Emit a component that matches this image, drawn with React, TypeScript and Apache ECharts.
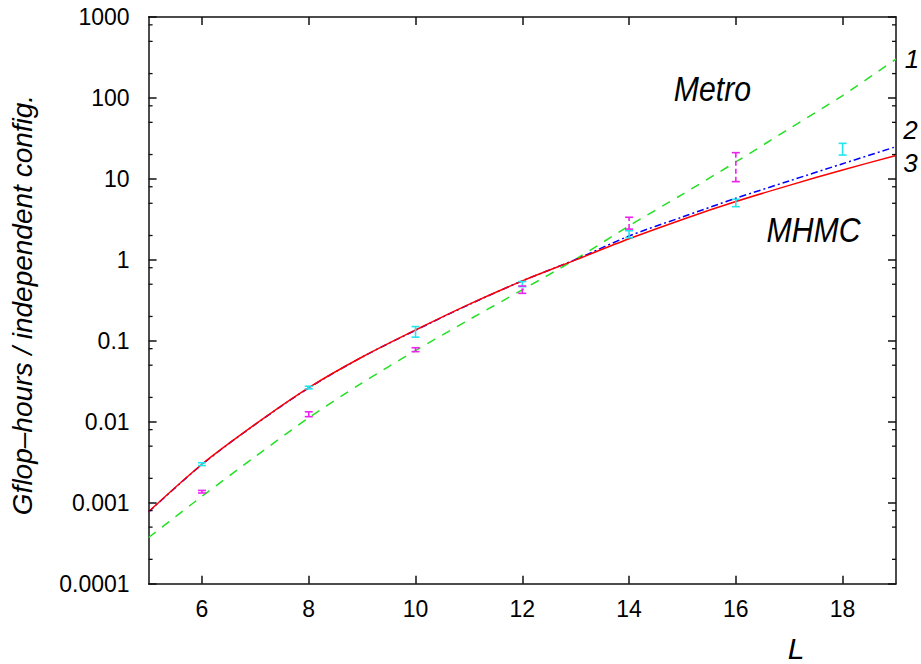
import React, { useEffect, useRef } from "react";
import * as echarts from "echarts";

// Curve sampling points (L)
const fitL = [5, 6, 7, 8, 9, 10, 11, 12, 13, 14, 15, 16, 17, 18, 19];
// 1: Metro fit (green dashed)
const metroFit = [0.000372, 0.0012, 0.00372, 0.0112, 0.0302, 0.0759, 0.182, 0.427, 1.02, 2.63, 6.46, 16.2, 41.7, 107, 302];
// 2: MHMC fit (blue dash-dot)
const mhmcFit2 = [0.00077, 0.00297, 0.0093, 0.0262, 0.063, 0.135, 0.28, 0.55, 1.01, 1.97, 3.39, 5.77, 9.44, 15.4, 25.0];
// 3: MHMC fit (red solid)
const mhmcFit3 = [0.000776, 0.00299, 0.00933, 0.0264, 0.0631, 0.136, 0.282, 0.55, 1.0, 1.82, 3.16, 5.25, 8.32, 12.9, 19.5];

// MHMC data (cyan)
const mhmcL = [6, 8, 10, 12, 14, 16, 18];
const mhmcVal = [0.003, 0.0265, 0.132, 0.5, 2.1, 5.04, 23.2];
const mhmcLo = [0.00288, 0.0255, 0.111, 0.467, 1.88, 4.54, 19.7];
const mhmcHi = [0.00312, 0.0275, 0.15, 0.54, 2.29, 5.6, 27.5];

// Metro data (magenta)
const metroL = [6, 8, 10, 12, 14, 16];
const metroVal = [0.00137, 0.0125, 0.0778, 0.428, 2.83, 14.9];
const metroLo = [0.00132, 0.01156, 0.0735, 0.386, 2.4, 9.25];
const metroHi = [0.00142, 0.0133, 0.0822, 0.475, 3.36, 21.1];

const xTicks = [6, 8, 10, 12, 14, 16, 18];
const yTickLabels = ["0.0001", "0.001", "0.01", "0.1", "1", "10", "100", "1000"];
const yMinorTicks = [
  0.0002, 0.0005, 0.0008,
  0.002, 0.005, 0.008,
  0.02, 0.05, 0.08,
  0.2, 0.5, 0.8,
  2, 5, 8,
  20, 50, 80,
  200, 500, 800,
];

const FONT = "Liberation Sans, Arial, Helvetica, sans-serif";

function errorBarSeries(xs: number[], c: number[], lo: number[], hi: number[], color: string, dash: number[] | null) {
  return {
    type: "custom",
    clip: false,
    z: 5,
    data: xs.map((x, i) => [x, c[i], lo[i], hi[i]]),
    encode: { x: 0, y: [1, 2, 3] },
    renderItem: (params: any, api: any) => {
      const x = api.value(0);
      const pLo = api.coord([x, api.value(2)]);
      const pHi = api.coord([x, api.value(3)]);
      const w = 4;
      const st = { stroke: color, lineWidth: 1.6, lineDash: dash || undefined };
      const cap = { stroke: color, lineWidth: 1.6 };
      return {
        type: "group",
        children: [
          { type: "line", shape: { x1: pLo[0], y1: pLo[1], x2: pHi[0], y2: pHi[1] }, style: st },
          { type: "line", shape: { x1: pLo[0] - w, y1: pLo[1], x2: pLo[0] + w, y2: pLo[1] }, style: cap },
          { type: "line", shape: { x1: pHi[0] - w, y1: pHi[1], x2: pHi[0] + w, y2: pHi[1] }, style: cap },
        ],
      };
    },
  };
}

export default function App() {
  const ref = useRef<HTMLDivElement>(null);
  useEffect(() => {
    if (!ref.current) return;
    const chart = echarts.init(ref.current, undefined, { renderer: "svg" });
    const axisLine = { show: true, lineStyle: { color: "#111", width: 1.5 } };
    const option: any = {
      animation: false,
      backgroundColor: "#fff",
      textStyle: { fontFamily: FONT },
      grid: { left: 148.6, right: 25, top: 17, bottom: 80.3, containLabel: false },
      xAxis: [
        {
          type: "value",
          min: 5,
          max: 19,
          position: "bottom",
          axisLine,
          axisTick: { show: true, inside: true, length: 8, customValues: xTicks, lineStyle: { color: "#111", width: 1.5 } },
          axisLabel: { customValues: xTicks, fontSize: 23, margin: 14, color: "#000", fontFamily: FONT },
          splitLine: { show: false },
        },
        {
          type: "value",
          min: 5,
          max: 19,
          position: "top",
          axisLine,
          axisTick: { show: true, inside: true, length: 8, customValues: xTicks, lineStyle: { color: "#111", width: 1.5 } },
          axisLabel: { show: false },
          splitLine: { show: false },
        },
      ],
      yAxis: [
        {
          type: "log",
          logBase: 10,
          min: 0.0001,
          max: 1000,
          interval: 1,
          splitNumber: 7,
          position: "left",
          axisLine,
          axisTick: { show: true, inside: true, length: 8, lineStyle: { color: "#111", width: 1.5 } },
          axisLabel: {
            fontSize: 23,
            margin: 19,
            color: "#000",
            fontFamily: FONT,
            formatter: (v: number) => {
              const e = Math.round(Math.log10(v));
              return yTickLabels[e + 4] ?? "";
            },
          },
          splitLine: { show: false },
          minorTick: { show: false },
        },
        {
          type: "log",
          logBase: 10,
          min: 0.0001,
          max: 1000,
          interval: 1,
          splitNumber: 7,
          position: "right",
          axisLine,
          axisTick: { show: true, inside: true, length: 8, lineStyle: { color: "#111", width: 1.5 } },
          axisLabel: { show: false },
          splitLine: { show: false },
        },
      ],
      series: [
        {
          type: "line",
          name: "1",
          data: fitL.map((x, i) => [x, metroFit[i]]),
          smooth: 0.3,
          symbol: "none",
          lineStyle: { color: "#22e022", width: 1.5, type: [9, 8] },
          z: 2,
        },
        {
          type: "line",
          name: "2",
          data: fitL.map((x, i) => [x, mhmcFit2[i]]),
          smooth: 0.3,
          symbol: "none",
          lineStyle: { color: "#0000ff", width: 1.5, type: [7, 3, 2, 3] },
          z: 3,
        },
        {
          type: "line",
          name: "3",
          data: fitL.map((x, i) => [x, mhmcFit3[i]]),
          smooth: 0.3,
          symbol: "none",
          lineStyle: { color: "#ff0000", width: 1.5 },
          z: 4,
        },
        errorBarSeries(mhmcL, mhmcVal, mhmcLo, mhmcHi, "#22e5ee", null),
        errorBarSeries(metroL, metroVal, metroLo, metroHi, "#ee22ee", [5, 3]),
        {
          type: "custom",
          clip: false,
          z: 6,
          data: yMinorTicks.map((v) => [5, v]),
          encode: { x: 0, y: 1 },
          renderItem: (params: any, api: any) => {
            const v = api.value(1);
            const l = api.coord([5, v]);
            const r = api.coord([19, v]);
            const st = { stroke: "#111", lineWidth: 1.3 };
            return {
              type: "group",
              children: [
                { type: "line", shape: { x1: l[0], y1: l[1], x2: l[0] + 4, y2: l[1] }, style: st },
                { type: "line", shape: { x1: r[0] - 4, y1: r[1], x2: r[0], y2: r[1] }, style: st },
              ],
            };
          },
        },
      ],
      graphic: [
        {
          type: "text",
          x: 22,
          y: 305,
          rotation: Math.PI / 2,
          style: {
            text: "Gflop\u2013hours / independent config.",
            fontSize: 28,
            fontStyle: "italic",
            fontFamily: FONT,
            fill: "#000",
            align: "center",
            verticalAlign: "middle",
          },
        },
        {
          type: "text",
          x: 796,
          y: 648,
          style: { text: "L", fontSize: 30, fontStyle: "italic", fontFamily: FONT, fill: "#000", align: "center", verticalAlign: "middle" },
        },
        {
          type: "text",
          x: 712.5,
          y: 89,
          scaleX: 0.84,
          style: { text: "Metro", fontSize: 36, fontStyle: "italic", fontFamily: FONT, fill: "#000", align: "center", verticalAlign: "middle" },
        },
        {
          type: "text",
          x: 813.5,
          y: 230,
          scaleX: 0.84,
          style: { text: "MHMC", fontSize: 36, fontStyle: "italic", fontFamily: FONT, fill: "#000", align: "center", verticalAlign: "middle" },
        },
        {
          type: "text",
          x: 912,
          y: 59,
          style: { text: "1", fontSize: 26, fontStyle: "italic", fontFamily: FONT, fill: "#000", align: "center", verticalAlign: "middle" },
        },
        {
          type: "text",
          x: 910.5,
          y: 129.5,
          style: { text: "2", fontSize: 26, fontStyle: "italic", fontFamily: FONT, fill: "#000", align: "center", verticalAlign: "middle" },
        },
        {
          type: "text",
          x: 910.5,
          y: 163,
          style: { text: "3", fontSize: 26, fontStyle: "italic", fontFamily: FONT, fill: "#000", align: "center", verticalAlign: "middle" },
        },
      ],
    };
    chart.setOption(option);
    return () => chart.dispose();
  }, []);
  return <div ref={ref} style={{ position: "fixed", left: 0, top: 0, width: 921, height: 664, background: "#fff" }} />;
}
